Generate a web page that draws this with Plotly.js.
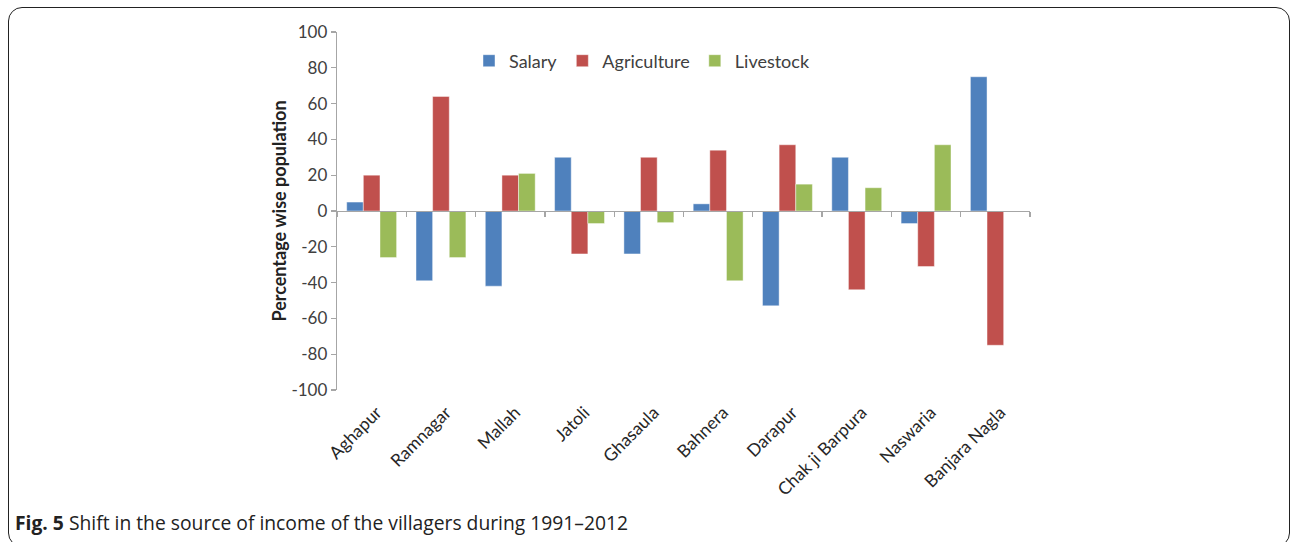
<!DOCTYPE html>
<html>
<head>
<meta charset="utf-8">
<script src="https://cdn.plot.ly/plotly-3.0.1.min.js"></script>
<style>
  html, body { margin: 0; padding: 0; background: #fff; }
  #wrap { position: relative; width: 1292px; height: 542px; overflow: hidden; }
  #chart { position: absolute; left: 0; top: 0; width: 1292px; height: 542px; }
  #frame {
    position: absolute; left: 8px; top: 7px; width: 1282px; height: 540px;
    border: 1.6px solid #222; border-radius: 14px; box-sizing: border-box;
    pointer-events: none;
  }
</style>
</head>
<body>
<div id="wrap">
  <div id="chart"></div>
  <div id="frame"></div>
</div>
<script>
// Villages surveyed
const villages = ['Aghapur', 'Ramnagar', 'Mallah', 'Jatoli', 'Ghasaula',
                  'Bahnera', 'Darapur', 'Chak ji Barpura', 'Naswaria', 'Banjara Nagla'];

// Change in share of population (%) by income source, 1991–2012
const salary      = [5, -39, -42, 30, -24, 4, -53, 30, -7, 75];
const agriculture = [20, 64, 20, -24, 30, 34, 37, -44, -31, -75];
const livestock   = [-26, -26, 21, -7, -6.5, -39, 15, 13, 37, 0];

const yTicks = [-100, -80, -60, -40, -20, 0, 20, 40, 60, 80, 100];

const seriesNames  = ['Salary', 'Agriculture', 'Livestock'];
const seriesValues = [salary, agriculture, livestock];
const seriesColors = ['#4F81BD', '#C0504D', '#9BBB59'];

const FONT = 'Lato, "Open Sans", sans-serif';

// plot-area geometry in px
const W = 1292, H = 542;
const M = { l: 337, r: W - 1030, t: 32, b: H - 390 };
const plotW = W - M.l - M.r, plotH = H - M.t - M.b;
const px2x = px => (px - M.l) / plotW;
const px2y = py => (H - M.b - py) / plotH;

const traces = seriesNames.map((name, i) => ({
  type: 'bar',
  name: name,
  x: villages,
  y: seriesValues[i],
  marker: { color: seriesColors[i], line: { color: 'rgba(255,255,255,0.55)', width: 0.8 } },
  hoverinfo: 'x+y+name'
}));

// carrier for the category axis drawn along the zero line
traces.push({
  type: 'scatter', mode: 'markers', x: villages, y: villages.map(() => null),
  xaxis: 'x2', yaxis: 'y', showlegend: false, hoverinfo: 'skip'
});

const layout = {
  width: W, height: H,
  margin: M,
  paper_bgcolor: '#fff', plot_bgcolor: '#fff',
  font: { family: FONT, color: '#404040' },
  barmode: 'group',
  bargap: 0.28,
  bargroupgap: 0,
  showlegend: true,
  legend: {
    orientation: 'h',
    x: px2x(469), xanchor: 'left',
    y: px2y(61), yanchor: 'middle',
    font: { family: FONT, size: 18, color: '#404040' },
    itemwidth: 30,
    bgcolor: 'rgba(0,0,0,0)'
  },
  xaxis: {
    type: 'category',
    categoryarray: villages,
    range: [-0.5, villages.length - 0.5],
    showline: false, showgrid: false, zeroline: false,
    ticks: '',
    tickangle: -45,
    ticklabelstandoff: 8,
    ticklabelshift: 5,
    tickfont: { family: FONT, size: 17.5, color: '#262626' },
    fixedrange: true
  },
  xaxis2: {
    type: 'category',
    categoryarray: villages,
    range: [-0.5, villages.length - 0.5],
    overlaying: 'x',
    anchor: 'free',
    position: 0.5,
    side: 'bottom',
    showline: true, linecolor: '#a6a6a6', linewidth: 1.3,
    ticks: 'outside', tickson: 'boundaries', ticklen: 5, tickcolor: '#a6a6a6', tickwidth: 1.3,
    showticklabels: false, showgrid: false, zeroline: false,
    fixedrange: true
  },
  yaxis: {
    range: [-100, 100],
    tickvals: yTicks,
    ticktext: yTicks.map(String),
    showline: true, linecolor: '#a6a6a6', linewidth: 1.3,
    ticks: 'outside', ticklen: 5, tickcolor: '#a6a6a6', tickwidth: 1.3,
    showgrid: false, zeroline: false,
    tickfont: { family: FONT, size: 17, color: '#404040' },
    title: { text: '<b>Percentage wise population</b>', font: { family: FONT, size: 18, color: '#222' }, standoff: 0 },
    fixedrange: true
  },
  annotations: [{
    xref: 'paper', yref: 'paper',
    x: px2x(13), y: px2y(522),
    xanchor: 'left', yanchor: 'middle',
    showarrow: false,
    text: '<b>Fig. 5</b> Shift in the source of income of the villagers during 1991–2012',
    font: { family: '"Open Sans", sans-serif', size: 19.3, color: '#222' }
  }]
};

Plotly.newPlot('chart', traces, layout, { displayModeBar: false, staticPlot: true });
</script>
</body>
</html>
